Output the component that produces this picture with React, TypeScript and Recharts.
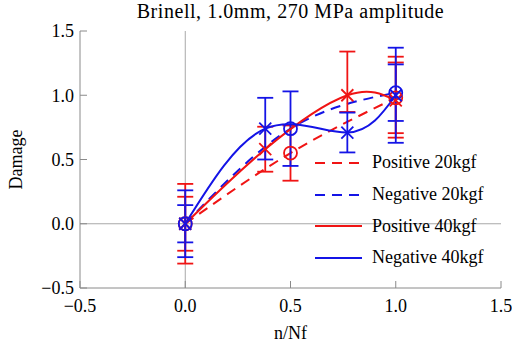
import { LineChart, Line, XAxis, YAxis, ErrorBar, ReferenceLine, Legend } from 'recharts';

const serif = "'Liberation Serif', 'DejaVu Serif', serif";
const red = '#f01414';
const blue = '#1414e6';
const frame = '#8a8a8a';

// n/Nf positions of the tests
const nf20 = [0, 0.5, 1.0];
const nf40 = [0, 0.38, 0.77, 1.0];

// damage values and error (+/-, or [low, high])
const pos20 = [0, 0.55, 0.98];
const pos20Err = [0.21, 0.215, 0.275];
const neg20 = [0, 0.74, 1.02];
const neg20Err = [0.145, 0.29, 0.22];
const pos40 = [0, 0.58, 1.0, 0.96];
const pos40Err = [0.31, 0.175, [0.13, 0.34], [0.29, 0.34]];
const neg40 = [0, 0.74, 0.71, 1.0];
const neg40Err = [0.26, 0.24, 0.155, 0.37];

const majorTicks = [-0.5, 0, 0.5, 1.0, 1.5];
const minorTicks = [-0.4, -0.3, -0.2, -0.1, 0.1, 0.2, 0.3, 0.4, 0.6, 0.7, 0.8, 0.9, 1.1, 1.2, 1.3, 1.4];
const domain: [number, number] = [-0.5, 1.5];

const toRows = (xs: number[], ys: number[], errs: any[]) =>
  xs.map((x, i) => ({ x, y: ys[i], err: errs[i] }));

const ring = (color: string) => (p: any) => (
  <circle key={`r-${p.index}`} cx={p.cx} cy={p.cy} r={6.5} fill="none" stroke={color} strokeWidth={1.8} />
);

const cross = (color: string) => (p: any) => (
  <g key={`c-${p.index}`} stroke={color} strokeWidth={1.8}>
    <line x1={p.cx - 6} y1={p.cy - 6} x2={p.cx + 6} y2={p.cy + 6} />
    <line x1={p.cx - 6} y1={p.cy + 6} x2={p.cx + 6} y2={p.cy - 6} />
  </g>
);

const series = [
  { name: 'Positive 20kgf', color: red, dash: '10 7', rows: toRows(nf20, pos20, pos20Err), dot: ring(red) },
  { name: 'Negative 20kgf', color: blue, dash: '10 7', rows: toRows(nf20, neg20, neg20Err), dot: ring(blue) },
  { name: 'Positive 40kgf', color: red, dash: undefined, rows: toRows(nf40, pos40, pos40Err), dot: cross(red) },
  { name: 'Negative 40kgf', color: blue, dash: undefined, rows: toRows(nf40, neg40, neg40Err), dot: cross(blue) },
];

const fmt = (v: number) => v.toFixed(1).replace('-', '\u2212');
const tickFont = { fontFamily: serif, fontSize: 18, fill: '#000', style: { fontFamily: serif } };
const labelStyle = { fontFamily: serif, fontSize: 18, fill: '#000' };

const renderLegend = () => (
  <div style={{ fontFamily: serif, fontSize: 18, color: '#000' }}>
    {series.map((s) => (
      <div key={s.name} style={{ display: 'flex', alignItems: 'center', height: 31.7 }}>
        <svg width={47} height={6}>
          <line x1={0} y1={3} x2={47} y2={3} stroke={s.color} strokeWidth={2.2} strokeDasharray={s.dash} />
        </svg>
        <span style={{ marginLeft: 10 }}>{s.name}</span>
      </div>
    ))}
  </div>
);

export default function App() {
  return (
    <div style={{ position: 'absolute', left: 0, top: 0, width: 512, height: 352, background: '#fff', fontFamily: serif }}>
      <div
        style={{
          position: 'absolute', left: 80, top: 0, width: 421, textAlign: 'center',
          fontFamily: serif, fontSize: 20, lineHeight: '22px', letterSpacing: '0.55px', color: '#000',
        }}
      >
        Brinell, 1.0mm, 270 MPa amplitude
      </div>
      <LineChart width={512} height={352} margin={{ top: 31, right: 11, bottom: 0, left: 0 }}>
        {/* minor ticks first so they sit on the frame */}
        <XAxis xAxisId="minor" type="number" dataKey="x" domain={domain} ticks={minorTicks} interval={0}
          height={0} tick={false} tickSize={-4} axisLine={false} tickLine={{ stroke: frame }} />
        <XAxis xAxisId="main" type="number" dataKey="x" domain={domain} ticks={majorTicks} interval={0}
          height={64} tickSize={-7} tickMargin={18} tickFormatter={fmt} tick={tickFont}
          axisLine={{ stroke: frame }} tickLine={{ stroke: frame }}
          label={{ value: 'n/Nf', position: 'insideBottom', offset: 13, style: labelStyle }} />
        <XAxis xAxisId="topMinor" orientation="top" type="number" dataKey="x" domain={domain} ticks={minorTicks} interval={0}
          height={0} tick={false} tickSize={-4} axisLine={false} tickLine={{ stroke: frame }} />
        <XAxis xAxisId="topMajor" orientation="top" type="number" dataKey="x" domain={domain} ticks={majorTicks} interval={0}
          height={0} tick={false} tickSize={-7} axisLine={{ stroke: frame }} tickLine={{ stroke: frame }} />

        <YAxis yAxisId="minor" type="number" domain={domain} ticks={minorTicks} interval={0}
          width={0} tick={false} tickSize={-4} axisLine={false} tickLine={{ stroke: frame }} />
        <YAxis yAxisId="main" type="number" domain={domain} ticks={majorTicks} interval={0} allowDataOverflow
          width={80} tickSize={-7} tickMargin={13} tickFormatter={fmt} tick={tickFont}
          axisLine={{ stroke: frame }} tickLine={{ stroke: frame }}
          label={{ value: 'Damage', angle: -90, position: 'insideLeft', offset: 16, style: { ...labelStyle, textAnchor: 'middle' } }} />
        <YAxis yAxisId="rightMinor" orientation="right" type="number" domain={domain} ticks={minorTicks} interval={0}
          width={0} tick={false} tickSize={-4} axisLine={false} tickLine={{ stroke: frame }} />
        <YAxis yAxisId="rightMajor" orientation="right" type="number" domain={domain} ticks={majorTicks} interval={0}
          width={0} tick={false} tickSize={-7} axisLine={{ stroke: frame }} tickLine={{ stroke: frame }} />

        <ReferenceLine xAxisId="main" yAxisId="main" x={0} stroke="#a8a8a8" strokeWidth={1} />
        <ReferenceLine xAxisId="main" yAxisId="main" y={0} stroke="#a8a8a8" strokeWidth={1} />

        {series.map((s) => (
          <Line
            key={s.name}
            xAxisId="main"
            yAxisId="main"
            data={s.rows}
            dataKey="y"
            name={s.name}
            type="natural"
            stroke={s.color}
            strokeWidth={2}
            strokeDasharray={s.dash}
            dot={s.dot}
            activeDot={false}
            isAnimationActive={false}
          >
            <ErrorBar dataKey="err" direction="y" width={8} stroke={s.color} strokeWidth={1.8} isAnimationActive={false} />
          </Line>
        ))}

        <Legend layout="vertical" align="center" verticalAlign="middle" content={renderLegend}
          wrapperStyle={{ left: 315, top: 147, width: 'auto', height: 'auto' }} />
      </LineChart>
    </div>
  );
}
